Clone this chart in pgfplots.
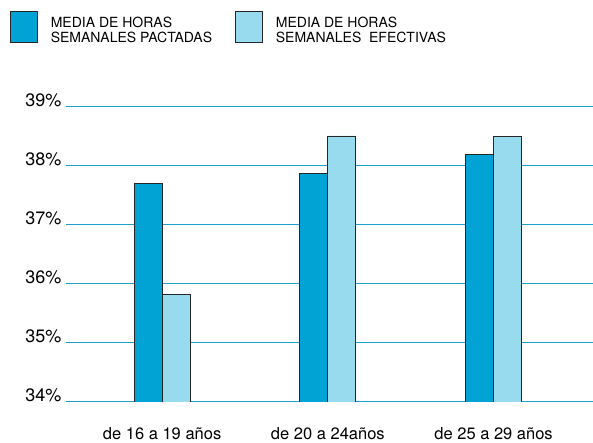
\documentclass[border=0pt]{standalone}
\usepackage{fontspec}
\setmainfont{TeX Gyre Heros}
\usepackage{pgfplots}
\pgfplotsset{compat=1.18}
\definecolor{darkb}{RGB}{0,163,212}
\definecolor{lightb}{RGB}{153,219,238}
\definecolor{gridc}{RGB}{30,158,204}
\begin{document}
\begin{tikzpicture}
\useasboundingbox (0,0) rectangle (593pt,443pt);
\begin{axis}[
  at={(66pt,41pt)}, anchor=south west,
  scale only axis, width=527pt, height=295pt,
  xmin=-0.58, xmax=2.6, ymin=34, ymax=39,
  ybar=0pt, bar width=28pt,
  xtick={0,1,2},
  xticklabels={de 16 a 19 años, de 20 a 24años, de 25 a 29 años},
  ytick={34,35,36,37,38,39},
  yticklabel={\pgfmathprintnumber{\tick}\%},
  /pgf/number format/assume math mode=true,
  yticklabel style={anchor=base east, font=\fontsize{18}{20}\selectfont, xshift=-1pt},
  xticklabel style={anchor=base, font=\fontsize{16.5}{18}\selectfont, yshift=-33pt},
  axis line style={draw=none},
  tick style={draw=none},
  ymajorgrids, grid style={color=gridc, line width=1pt},
  legend style={at={(0,1)}, anchor=north west, xshift=-56pt, yshift=96pt,
    draw=none, fill=none, inner sep=0pt, outer sep=0pt,
    font=\fontsize{14}{15.3}\selectfont, legend columns=2,
    nodes={inner sep=0pt},
    /tikz/every odd column/.append style={column sep=13pt},
    /tikz/every even column/.append style={column sep=23pt}},
  legend cell align=left,
]
\addplot[fill=darkb, draw=black!85, line width=0.8pt,
  legend image code/.code={\draw[fill=darkb, draw=black!85, line width=0.8pt] (0pt,-15.5pt) rectangle (27pt,15.5pt);}]
  coordinates {(0,37.7) (1,37.87) (2,38.2)};
\addlegendentry{\renewcommand{\arraystretch}{0.9}\begin{tabular}{@{}l@{}}MEDIA DE HORAS\\SEMANALES PACTADAS\end{tabular}}
\addplot[fill=lightb, draw=black!85, line width=0.8pt,
  legend image code/.code={\draw[fill=lightb, draw=black!85, line width=0.8pt] (0pt,-15.5pt) rectangle (27pt,15.5pt);}]
  coordinates {(0,35.82) (1,38.51) (2,38.5)};
\addlegendentry{\renewcommand{\arraystretch}{0.9}\begin{tabular}{@{}l@{}}MEDIA DE HORAS\\SEMANALES\ \ EFECTIVAS\end{tabular}}
\end{axis}
\end{tikzpicture}
\end{document}
